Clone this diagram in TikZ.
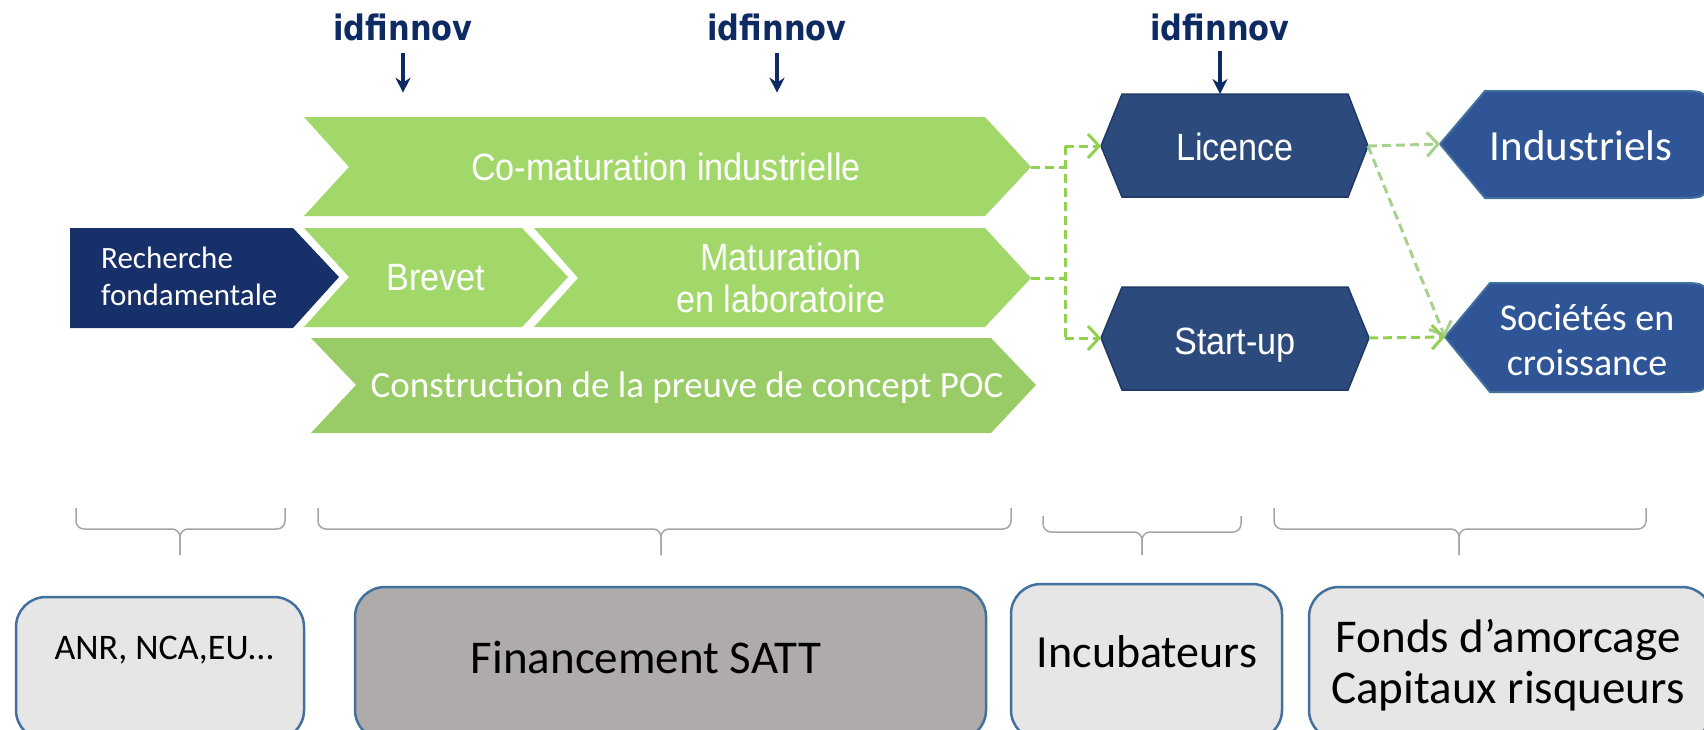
\documentclass[tikz,border=0pt]{standalone}
\usepackage{fontspec}
\setmainfont{Carlito}
\newfontfamily\narrowfont[FakeStretch=0.9]{Liberation Sans}
\newfontfamily\idffont[FakeStretch=0.87]{DejaVu Sans}
\usetikzlibrary{arrows.meta}

\definecolor{idfnavy}{HTML}{0D2A63}
\definecolor{deepblue}{HTML}{17306A}
\definecolor{leafgreen}{HTML}{A2D86A}
\definecolor{mossgreen}{HTML}{99CB66}
\definecolor{hexblue}{HTML}{2C4A7C}
\definecolor{hexline}{HTML}{1F3864}
\definecolor{tipblue}{HTML}{2F5597}
\definecolor{tipline}{HTML}{41719C}
\definecolor{linkgreen}{HTML}{92D050}
\definecolor{palegreen}{HTML}{A9D18E}
\definecolor{boxgray}{HTML}{E6E6E6}
\definecolor{sattgray}{HTML}{AFABAB}
\definecolor{boxline}{HTML}{41719C}
\definecolor{bracegray}{HTML}{A6A6A6}

\tikzset{
  idf/.style={font=\idffont\bfseries\fontsize{35}{40}\selectfont, text=idfnavy, inner sep=0pt, anchor=base},
  idfarrow/.style={idfnavy, line width=3.5pt, -{Stealth[length=15pt,width=15pt]}},
  stage/.style={font=\narrowfont\fontsize{38}{42}\selectfont, text=white, inner sep=0pt, anchor=base, align=center},
  calitext/.style={text=white, inner sep=0pt, anchor=base, align=center},
  fundtext/.style={text=black, inner sep=0pt, anchor=base, align=center},
  link/.style={linkgreen, line width=3pt, dash pattern=on 9pt off 5pt},
  linkarrow/.style={link, -{Straight Barb[length=11pt,width=24pt]}},
  brace/.style={bracegray, line width=1.5pt, rounded corners=8pt},
  fundbox/.style={draw=boxline, line width=2.5pt, rounded corners=30pt},
}

\begin{document}
\begin{tikzpicture}[x=1pt,y=-1pt]
  \useasboundingbox (0,0) rectangle (1704,729);

  % stages
  \fill[leafgreen] (304,117) -- (985,117) -- (1031,167) -- (985,216) -- (304,216) -- (349,167) -- cycle;
  \fill[leafgreen] (304,228) -- (522,228) -- (568,277) -- (522,327) -- (304,327) -- (349,277) -- cycle;
  \fill[leafgreen] (534,228) -- (985,228) -- (1031,278) -- (985,327) -- (534,327) -- (578,278) -- cycle;
  \fill[mossgreen] (311,338) -- (991,338) -- (1036,385) -- (991,433) -- (311,433) -- (356,385) -- cycle;
  \fill[deepblue] (70,228) -- (293,228) -- (339,277) -- (293,328) -- (70,328) -- cycle;
  \coordinate (comat-e) at (1031,167);
  \coordinate (matur-e) at (1031,278);

  \node[stage] (comat) at (666,180) {Co-maturation industrielle};
  \node[stage] (brevet) at (436,290) {Brevet};
  \node[stage] (matur) at (781,312) {Maturation\\en laboratoire};
  \node[calitext, font=\fontsize{37}{42}\selectfont] (poc) at (687,397) {Construction de la preuve de concept POC};
  \node[calitext, align=left, anchor=base west, font=\fontsize{31}{37}\selectfont] (rech) at (101,305) {Recherche\\fondamentale};

  % exits
  \filldraw[fill=hexblue, draw=hexline, line width=1.5pt] (1101,146) -- (1122,94) -- (1348,94) -- (1368,146) -- (1348,197) -- (1122,197) -- cycle;
  \filldraw[fill=hexblue, draw=hexline, line width=1.5pt] (1101,338) -- (1122,287) -- (1348,287) -- (1369,338) -- (1348,390) -- (1122,390) -- cycle;
  \coordinate (lic-w) at (1101,146);
  \coordinate (lic-e) at (1368,146);
  \coordinate (lic-n) at (1220,94);
  \coordinate (start-w) at (1101,338);
  \coordinate (start-e) at (1369,338);
  \node[stage] (lic) at (1235,160) {Licence};
  \node[stage] (start) at (1235,354) {Start-up};

  \filldraw[fill=tipblue, draw=tipline, line width=2pt] (1440,144) -- (1485,91) -- (1678,91) .. controls (1708,91) .. (1708,121) -- (1708,168) .. controls (1708,198) .. (1678,198) -- (1485,198) -- cycle;
  \filldraw[fill=tipblue, draw=tipline, line width=2pt] (1445,337) -- (1490,283) -- (1678,283) .. controls (1708,283) .. (1708,313) -- (1708,362) .. controls (1708,392) .. (1678,392) -- (1490,392) -- cycle;
  \coordinate (ind-w) at (1440,144);
  \coordinate (soc-w) at (1445,337);
  \node[calitext, font=\fontsize{43}{48}\selectfont] (ind) at (1581,160) {Industriels};
  \node[calitext, font=\fontsize{38}{45}\selectfont] (soc) at (1587,375) {Sociétés en\\croissance};

  % links
  \coordinate (fork-n) at (1065,146);
  \coordinate (fork-s) at (1065,338);
  \draw[link] (comat-e) -- (comat-e -| fork-n);
  \draw[link] (matur-e) -- (matur-e -| fork-n);
  \draw[link] (fork-n) -- (fork-s);
  \draw[linkarrow] (fork-n) -- (lic-w);
  \draw[linkarrow] (fork-s) -- (start-w);
  \draw[linkarrow, palegreen] (lic-e) -- (ind-w);
  \draw[linkarrow, palegreen] (lic-e) -- (soc-w);
  \draw[linkarrow] (start-e) -- (soc-w);

  % idfinnov
  \node[idf] (idf1) at (403,40) {idfinnov};
  \node[idf] (idf2) at (777,40) {idfinnov};
  \node[idf] (idf3) at (1220,40) {idfinnov};
  \draw[idfarrow] ([yshift=-12pt]idf1.south) -- ++(0,40);
  \draw[idfarrow] ([yshift=-12pt]idf2.south) -- ++(0,40);
  \draw[idfarrow] ([yshift=-10pt]idf3.south) -- (lic-n);

  % braces
  \draw[brace] (76,508) |- (180,529) -- (180,555);
  \draw[brace] (285,508) |- (180,529) -- (180,555);
  \draw[brace] (318,508) |- (661,529) -- (661,555);
  \draw[brace] (1011,508) |- (661,529) -- (661,555);
  \draw[brace] (1043,516) |- (1142,532) -- (1142,555);
  \draw[brace] (1241,516) |- (1142,532) -- (1142,555);
  \draw[brace] (1274,508) |- (1459,529) -- (1459,555);
  \draw[brace] (1646,508) |- (1459,529) -- (1459,555);

  % funding
  \draw[fundbox, fill=boxgray] (16,597) rectangle (304,740);
  \draw[fundbox, fill=sattgray] (355,587) rectangle (986,740);
  \draw[fundbox, fill=boxgray] (1011,584) rectangle (1282,740);
  \draw[fundbox, fill=boxgray] (1309,587) rectangle (1712,740);
  \node[fundtext, font=\fontsize{36}{42}\selectfont] (anr) at (164,659) {ANR, NCA,EU…};
  \node[fundtext, font=\fontsize{47}{51}\selectfont] (satt) at (646,673) {Financement SATT};
  \node[fundtext, font=\fontsize{46}{51}\selectfont] (incub) at (1147,667) {Incubateurs};
  \node[fundtext, font=\fontsize{47}{51}\selectfont] (fonds) at (1508,703) {Fonds d’amorcage\\Capitaux risqueurs};
\end{tikzpicture}
\end{document}
